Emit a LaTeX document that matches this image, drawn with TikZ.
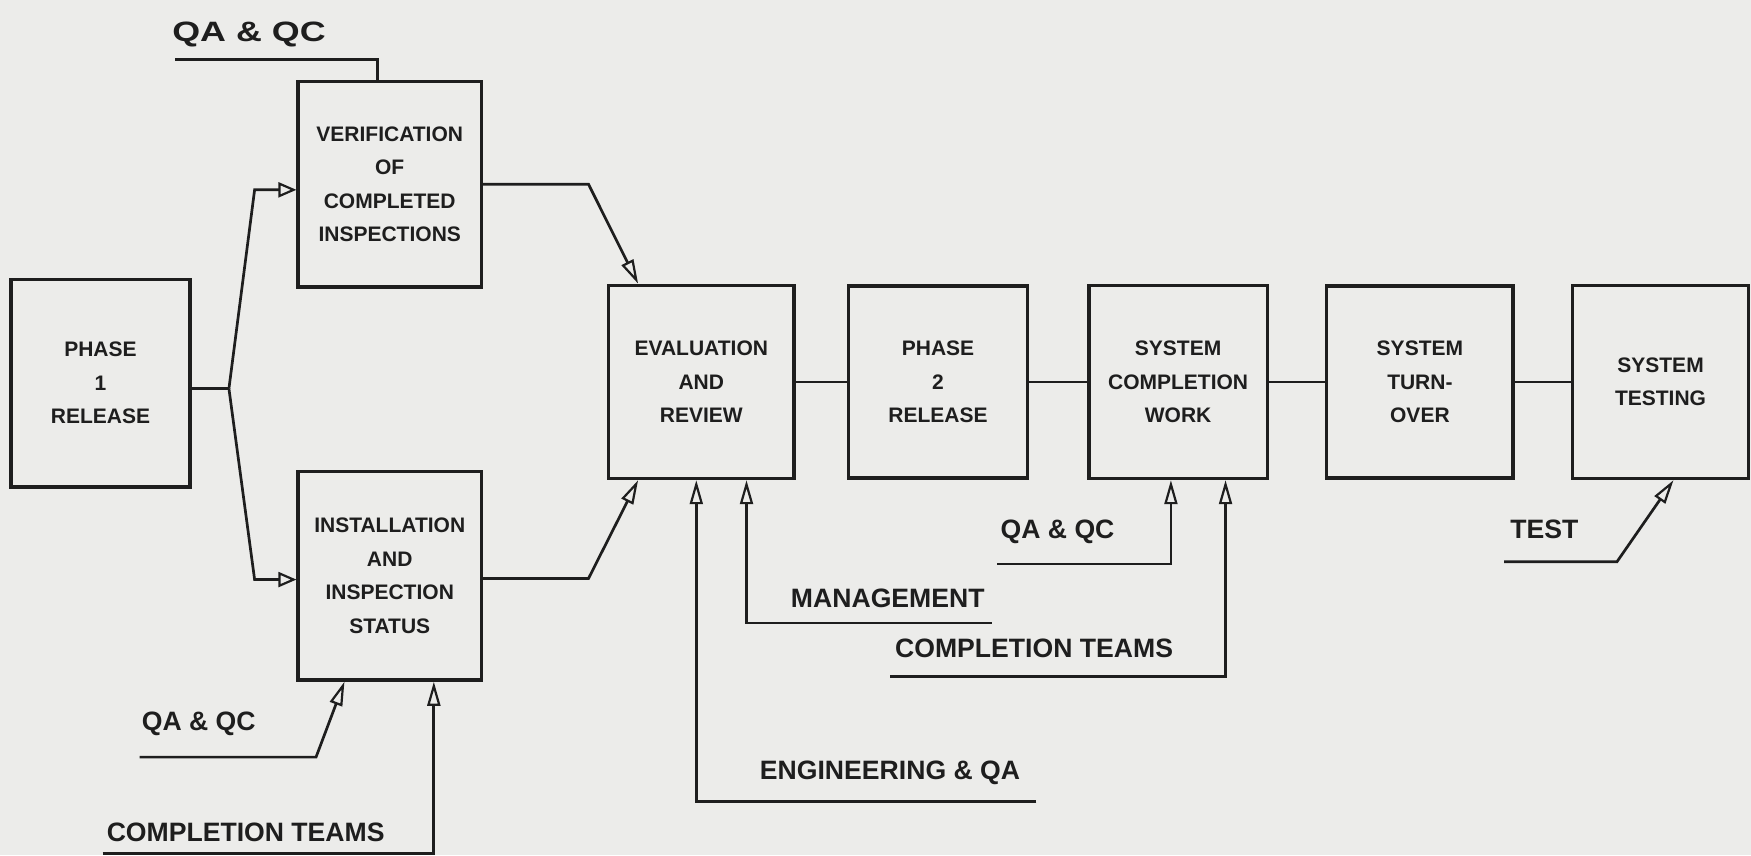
\documentclass[tikz,border=0pt]{standalone}
\usepackage{fontspec}
\setmainfont{Liberation Sans}
\usepackage{graphicx}
\usetikzlibrary{arrows.meta}
\definecolor{paper}{RGB}{236,236,234}
\definecolor{ink}{RGB}{30,30,30}
\begin{document}
\begin{tikzpicture}[x=0.5583pt,y=-0.5583pt,
  box/.style={draw=ink, line width=1.7pt, align=center, text=ink, inner sep=0pt,
    font=\fontsize{10.5}{16.75}\selectfont\bfseries},
  lab/.style={text=ink, inner sep=0pt, font=\fontsize{13.3}{16}\selectfont\bfseries},
  conn/.style={draw=ink, line width=1.35pt},
  arr/.style={conn, -{Triangle[open, length=12pt, width=6.5pt, line width=1.1pt]}},
  arrP/.style={conn, -{Triangle[open, length=9pt, width=7.5pt, line width=1.1pt]}}]
\useasboundingbox (0,0) rectangle (1568,766);
\fill[paper] (0,0) rectangle (1568,766);

% boxes
\node[box, minimum width=89.3pt, minimum height=103.8pt] (p1) at (90,343) {PHASE\\1\\RELEASE};
\node[box, minimum width=91.6pt, minimum height=102.7pt] (ver) at (349,165) {VERIFICATION\\OF\\COMPLETED\\INSPECTIONS};
\node[box, minimum width=91.6pt, minimum height=104.4pt] (ins) at (349,515.5) {INSTALLATION\\AND\\INSPECTION\\STATUS};
\node[box, minimum width=92.7pt, minimum height=96.6pt] (eval) at (628,342) {EVALUATION\\AND\\REVIEW};
\node[box, minimum width=89.3pt, minimum height=96pt] (p2) at (840,342) {PHASE\\2\\RELEASE};
\node[box, minimum width=89.3pt, minimum height=96.6pt] (sc) at (1055,342) {SYSTEM\\COMPLETION\\WORK};
\node[box, minimum width=93.2pt, minimum height=96pt] (to) at (1271.5,342) {SYSTEM\\TURN-\\OVER};
\node[box, minimum width=88.2pt, minimum height=96.6pt] (st) at (1487,342) {SYSTEM\\TESTING};

% labels
\node[lab, font=\fontsize{14}{16}\selectfont\bfseries] (qa1) at (223,31) {\scalebox{1.28}[1]{QA \& QC}};
\node[lab] (qa2) at (178,648) {QA \& QC};
\node[lab] (ct1) at (220,745) {COMPLETION TEAMS};
\node[lab] (eng) at (797,692) {ENGINEERING \& QA};
\node[lab] (mg) at (795,536) {MANAGEMENT};
\node[lab] (qa3) at (947,476) {QA \& QC};
\node[lab] (ct2) at (926,581) {COMPLETION TEAMS};
\node[lab] (ts) at (1383,474) {TEST};

% phase 1 branches
\coordinate (j) at (205,348);
\coordinate (b1) at (228,170);
\coordinate (b2) at (228,519);
\draw[conn] (p1.east |- j) -- (j);
\draw[arrP] (j) -- (b1) -- (b1 -| ver.west);
\draw[arrP] (j) -- (b2) -- (b2 -| ins.west);

% to evaluation
\coordinate (k1) at (527,165);
\coordinate (k2) at (527,518);
\draw[arr] (ver.east) -- (k1) -- ([xshift=15.6pt]eval.north west);
\draw[arr] (k2 -| ins.east) -- (k2) -- ([xshift=15.6pt]eval.south west);

% main chain
\draw[conn] (eval.east) -- (p2.west);
\draw[conn] (p2.east) -- (sc.west);
\draw[conn] (sc.east) -- (to.west);
\draw[conn] (to.east) -- (st.west);

% inputs
\coordinate (q1) at (157,53);
\draw[conn] (q1) -| ([xshift=-6.1pt]ver.north);
\coordinate (q2) at (125,678);
\coordinate (q2k) at (283,678);
\draw[arr] (q2) -- (q2k) -- ([xshift=24pt]ins.south west);
\coordinate (c1) at (92,764);
\draw[arr] (c1) -| ([xshift=68.7pt]ins.south west);
\coordinate (e1) at (928,718);
\draw[arr] (e1) -| ([xshift=44.7pt]eval.south west);
\coordinate (m1) at (888,558);
\draw[arr] (m1) -| ([xshift=69.8pt]eval.south west);
\coordinate (q3) at (893,505);
\draw[arr] (q3) -| ([xshift=41.9pt]sc.south west);
\coordinate (c2) at (797,606);
\draw[arr] (c2) -| ([xshift=69.2pt]sc.south west);
\coordinate (t1) at (1347,503);
\coordinate (t1k) at (1448,503);
\draw[arr] (t1) -- (t1k) -- ([xshift=51.4pt]st.south west);
\end{tikzpicture}
\end{document}
